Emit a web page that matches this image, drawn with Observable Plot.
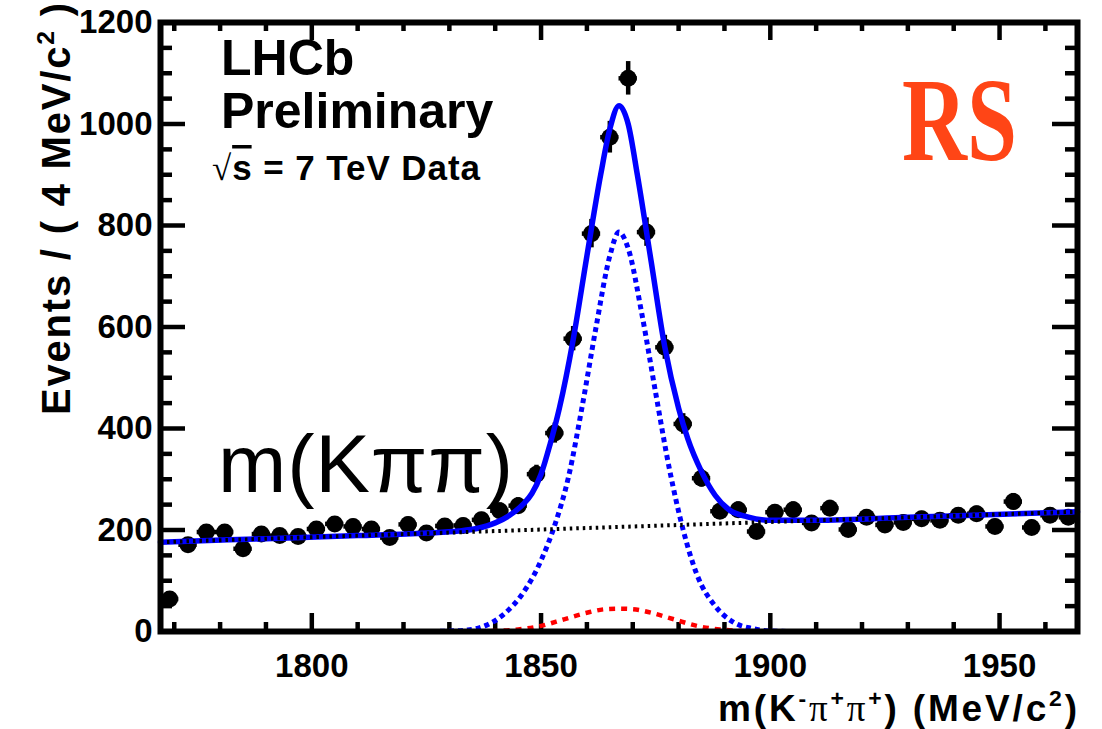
<!DOCTYPE html>
<html><head><meta charset="utf-8">
<script src="https://cdn.jsdelivr.net/npm/d3@7"></script>
<script src="https://cdn.jsdelivr.net/npm/@observablehq/plot@0.6"></script>
<style>body{margin:0;background:#fff}svg{overflow:visible}</style>
</head><body><div id="chart"></div>
<script>
// ---- data ----
const binCenters = [1769,1773,1777,1781,1785,1789,1793,1797,1801,1805,1809,1813,1817,1821,1825,1829,1833,1837,1841,1845,1849,1853,1857,1861,1865,1869,1873,1877,1881,1885,1889,1893,1897,1901,1905,1909,1913,1917,1921,1925,1929,1933,1937,1941,1945,1949,1953,1957,1961,1965];
const counts = [64,171,196,196,163,192,189,187,202,212,207,202,185,211,194,208,209,220,238,248,310,391,577,784,974,1090,787,560,409,302,237,240,197,235,240,214,243,201,225,210,215,222,219,229,232,207,256,205,229,225];
const binHalfWidth = 2;

const totalX = [1767,1790,1810,1825,1832,1836,1840,1843,1846,1848,1850,1852,1854,1857,1860,1863,1865,1867,1869,1871,1874,1877,1880,1882,1885,1888,1891,1895,1900,1910,1930,1967];
const totalY = [176,183,189,194,198,203,214,228,250,272,310,370,440,575,740,900,990,1036,1000,900,730,560,440,380,315,268,240,226,219,219,225,236];

const signalX = [1826,1830,1834,1838,1842,1846,1850,1853,1856,1859,1862,1865,1867,1869,1872,1875,1878,1881,1884,1888,1892,1896,1900,1906];
const signalY = [0,1,3,12,35,75,140,210,305,445,600,740,787,755,625,470,320,200,112,50,18,6,1,0];

const redX = [1834,1840,1845,1850,1855,1860,1864,1867,1870,1874,1879,1884,1889,1894,1900];
const redY = [0,1,4,11,24,37,44,45,44,37,24,11,4,1,0];

const bkgX = [1767,1967];
const bkgY = [176,236];

const xMajor = [1800,1850,1900,1950];
const xMinor = [1770,1780,1790,1810,1820,1830,1840,1860,1870,1880,1890,1910,1920,1930,1940,1960];
const yMajor = [0,200,400,600,800,1000,1200];
const yMinor = [50,100,150,250,300,350,450,500,550,650,700,750,850,900,950,1050,1100,1150];

// ---- tables built from the arrays ----
const pts = binCenters.map((m,i)=>({m, n:counts[i], e:Math.sqrt(counts[i])}));
const toXY = (xs,ys)=>xs.map((x,i)=>({x, y:ys[i]}));
const total = toXY(totalX,totalY), signal = toXY(signalX,signalY), red = toXY(redX,redY), bkg = toXY(bkgX,bkgY);

const W=1102, H=729, ML=160, MR=25, MT=22, MB=98;
const PW=W-ML-MR, PH=H-MT-MB;
const sans = "'Liberation Sans', Arial, Helvetica, sans-serif";
const serif = "'Liberation Serif', 'Times New Roman', serif";

const plot = Plot.plot({
  width:W, height:H, marginLeft:ML, marginRight:MR, marginTop:MT, marginBottom:MB,
  style:{fontFamily:sans, fontWeight:"bold", fontSize:"33px", color:"black", background:"white"},
  x:{domain:[1767,1967], label:null},
  y:{domain:[0,1200], label:null},
  marks:[
    Plot.axisX(xMajor,{anchor:"bottom", tickSize:0, tickPadding:22, tickFormat:d3.format("d"), fontSize:33, fontWeight:"bold", label:null}),
    Plot.axisY(yMajor,{anchor:"left", tickSize:0, tickPadding:8, tickFormat:d3.format("d"), fontSize:33, fontWeight:"bold", label:null}),
    // inward ticks
    Plot.tickX(xMajor,{x:d=>d, insetTop:PH-18, strokeWidth:4.5}),
    Plot.tickX(xMinor,{x:d=>d, insetTop:PH-9, strokeWidth:4.5}),
    Plot.tickX(xMajor,{x:d=>d, insetBottom:PH-18, strokeWidth:4.5}),
    Plot.tickX(xMinor,{x:d=>d, insetBottom:PH-9, strokeWidth:4.5}),
    Plot.tickY(yMajor,{y:d=>d, insetRight:PW-25, strokeWidth:4.5}),
    Plot.tickY(yMinor,{y:d=>d, insetRight:PW-12, strokeWidth:4.5}),
    Plot.tickY(yMajor,{y:d=>d, insetLeft:PW-25, strokeWidth:4.5}),
    Plot.tickY(yMinor,{y:d=>d, insetLeft:PW-12, strokeWidth:4.5}),
    // data points with error bars
    Plot.ruleX(pts,{x:"m", y1:d=>d.n-d.e, y2:d=>d.n+d.e, stroke:"black", strokeWidth:4.5}),
    Plot.ruleY(pts,{y:"n", x1:d=>d.m-binHalfWidth, x2:d=>d.m+binHalfWidth, stroke:"black", strokeWidth:4.5}),
    Plot.dot(pts,{x:"m", y:"n", r:8.5, fill:"black", stroke:"none"}),
    // fit curves
    Plot.line(total,{x:"x", y:"y", stroke:"#0000ff", strokeWidth:5.5, curve:"monotone-x"}),
    Plot.line(signal,{x:"x", y:"y", stroke:"#0000ff", strokeWidth:5, strokeDasharray:"5,4", strokeLinecap:"butt", curve:"monotone-x"}),
    Plot.line(red,{x:"x", y:"y", stroke:"#ff0000", strokeWidth:4.5, strokeDasharray:"6,6", strokeLinecap:"butt", curve:"monotone-x"}),
    Plot.line(bkg,{x:"x", y:"y", stroke:"black", strokeWidth:4, strokeDasharray:"2.5,4", strokeLinecap:"butt"}),
    Plot.frame({stroke:"black", strokeWidth:6})
  ]
});
document.getElementById("chart").appendChild(plot);

// ---- annotations ----
const svg = d3.select(plot);
function rich(x, y, parts, opts={}) {
  const t = svg.append("text").attr("x",x).attr("y",y)
    .attr("font-family", opts.family||sans).attr("font-weight", opts.weight||"bold")
    .attr("font-size", opts.size).attr("fill", opts.fill||"black")
    .attr("text-anchor", opts.anchor||"start");
  if (opts.transform) t.attr("transform", opts.transform);
  if (opts.textLength) t.attr("textLength", opts.textLength).attr("lengthAdjust", opts.lengthAdjust||"spacing");
  let shift = 0;
  for (const p of parts) {
    const s = t.append("tspan").text(p.t);
    const target = p.sup ? -opts.size*0.4 : 0;
    if (target !== shift) { s.attr("dy", target - shift); shift = target; }
    if (p.sup) s.attr("font-size", opts.size*0.62);
    if (p.serif) s.attr("font-family", serif).attr("font-weight","normal");
    if (p.weight) s.attr("font-weight", p.weight);
    if (p.style) s.attr("style", p.style);
  }
  return t;
}
rich(221, 75, [{t:"LHCb"}], {size:50});
rich(221, 128, [{t:"Preliminary"}], {size:50});
rich(212, 180, [{t:"√", serif:true}, {t:"s", style:"text-decoration:overline"}, {t:" = 7 TeV Data"}], {size:35, textLength:268});
rich(218, 492, [{t:"m(Kππ)"}], {size:82, weight:"normal", textLength:295});
rich(902, 160, [{t:"RS"}], {size:118, family:serif, fill:"#ff4516", textLength:115, lengthAdjust:"spacingAndGlyphs"});
rich(1077, 721, [{t:"m(K"},{t:"-",sup:true},{t:"π",serif:true},{t:"+",sup:true},{t:"π",serif:true},{t:"+",sup:true},{t:") (MeV/c"},{t:"2",sup:true},{t:")"}], {size:37, anchor:"end", textLength:359});
rich(0, 0, [{t:"Events / ( 4 MeV/c"},{t:"2",sup:true},{t:" )"}], {size:40, anchor:"end", transform:"translate(70,3) rotate(-90)", textLength:412});
</script>
</body></html>
